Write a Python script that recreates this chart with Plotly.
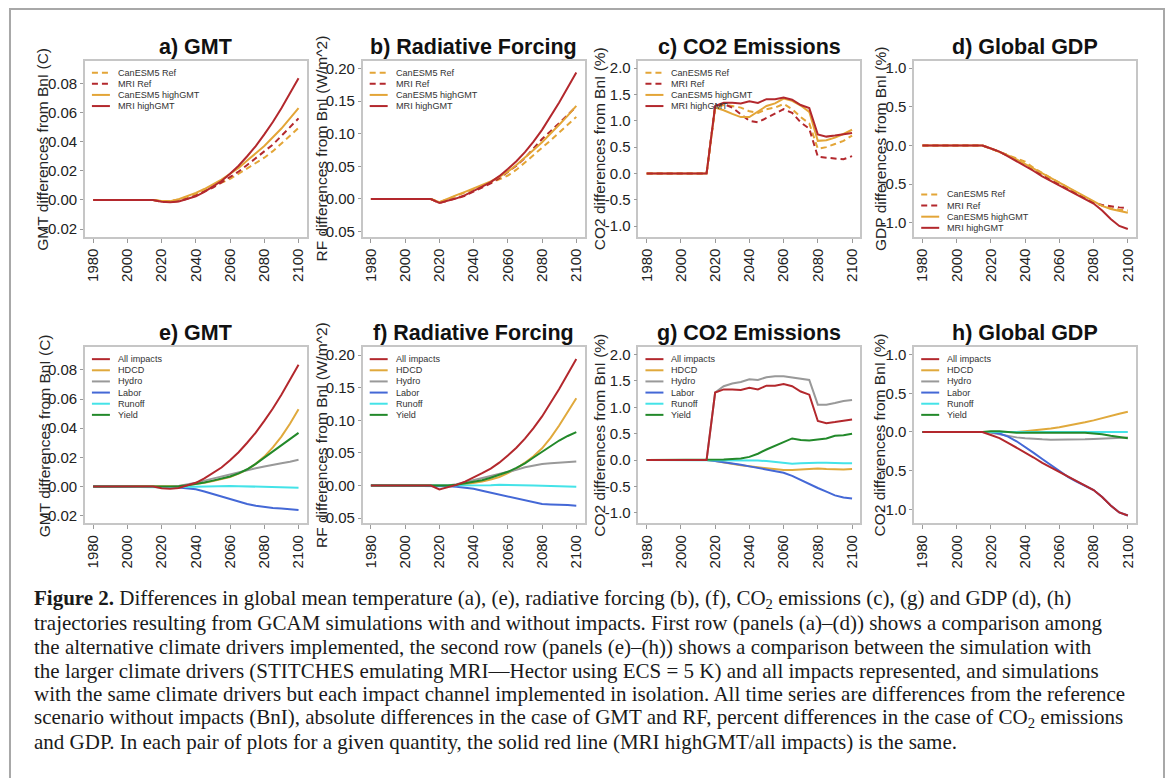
import plotly.graph_objects as go

W, H = 1171, 778

# ---------------- data ----------------
years = [1980, 1985, 1990, 1995, 2000, 2005, 2010, 2015, 2020, 2025, 2030, 2035, 2040,
         2045, 2050, 2055, 2060, 2065, 2070, 2075, 2080, 2085, 2090, 2095, 2100]
x_tick_vals = [1980, 2000, 2020, 2040, 2060, 2080, 2100]
x_tick_text = ["1980", "2000", "2020", "2040", "2060", "2080", "2100"]

# GMT (C)
gmt_can_ref = [0, 0, 0, 0, 0, 0, 0, 0, -0.0008, -0.0008, 0.0003, 0.0020, 0.0040, 0.0065, 0.0090, 0.0115,
               0.0145, 0.0180, 0.0215, 0.0250, 0.0290, 0.0335, 0.0385, 0.0440, 0.0495]
gmt_mri_ref = [0, 0, 0, 0, 0, 0, 0, 0, -0.0012, -0.0015, -0.0008, 0.0008, 0.0030, 0.0055, 0.0085, 0.0120,
               0.0155, 0.0195, 0.0240, 0.0285, 0.0330, 0.0380, 0.0440, 0.0500, 0.0560]
gmt_can_high = [0, 0, 0, 0, 0, 0, 0, 0, -0.0008, -0.0008, 0.0005, 0.0025, 0.0048, 0.0075, 0.0105, 0.0140,
                0.0180, 0.0220, 0.0270, 0.0320, 0.0370, 0.0430, 0.0490, 0.0560, 0.0630]
gmt_mri_high = [0, 0, 0, 0, 0, 0, 0, 0, -0.0012, -0.0016, -0.0010, 0.0005, 0.0025, 0.0055, 0.0090, 0.0130,
                0.0180, 0.0235, 0.0300, 0.0370, 0.0450, 0.0535, 0.0630, 0.0730, 0.0835]
gmt_hdcd = [0, 0, 0, 0, 0, 0, 0, 0, 0.0, 0.0, 0.0003, 0.0008, 0.0015, 0.0025, 0.0038, 0.0050,
            0.0065, 0.0088, 0.0115, 0.0155, 0.0205, 0.0268, 0.0342, 0.0430, 0.0530]
gmt_hydro = [0, 0, 0, 0, 0, 0, 0, 0, -0.0003, -0.0003, 0.0003, 0.0012, 0.0025, 0.0040, 0.0055, 0.0070,
             0.0085, 0.0100, 0.0113, 0.0125, 0.0137, 0.0150, 0.0160, 0.0170, 0.0183]
gmt_labor = [0, 0, 0, 0, 0, 0, 0, 0, -0.0002, -0.0004, -0.0007, -0.0012, -0.0020, -0.0035, -0.0052, -0.0070,
             -0.0088, -0.0105, -0.0120, -0.0132, -0.0142, -0.0148, -0.0152, -0.0157, -0.0162]
gmt_runoff = [0, 0, 0, 0, 0, 0, 0, 0, -0.0005, -0.0006, -0.0004, -0.0002, -0.0001, 0.0, 0.0001, 0.0002,
              0.0003, 0.0002, 0.0, -0.0002, -0.0003, -0.0005, -0.0006, -0.0008, -0.0009]
gmt_yield = [0, 0, 0, 0, 0, 0, 0, 0, 0.0, 0.0, 0.0002, 0.0008, 0.0016, 0.0027, 0.0040, 0.0053,
             0.0068, 0.0090, 0.0118, 0.0155, 0.0197, 0.0240, 0.0282, 0.0325, 0.0368]

# Radiative forcing (W/m^2)
rf_can_ref = [0, 0, 0, 0, 0, 0, 0, 0, -0.005, 0.000, 0.004, 0.009, 0.014, 0.019, 0.024, 0.030,
              0.036, 0.045, 0.056, 0.067, 0.079, 0.090, 0.102, 0.114, 0.126]
rf_mri_ref = [0, 0, 0, 0, 0, 0, 0, 0, -0.006, -0.003, 0.001, 0.005, 0.011, 0.017, 0.024, 0.032,
              0.041, 0.051, 0.063, 0.077, 0.092, 0.104, 0.116, 0.129, 0.142]
rf_can_high = [0, 0, 0, 0, 0, 0, 0, 0, -0.005, 0.001, 0.006, 0.011, 0.016, 0.021, 0.027, 0.034,
               0.042, 0.052, 0.063, 0.075, 0.087, 0.100, 0.114, 0.128, 0.143]
rf_mri_high = [0, 0, 0, 0, 0, 0, 0, 0, -0.006, -0.003, 0.001, 0.006, 0.012, 0.019, 0.026, 0.035,
               0.046, 0.058, 0.072, 0.088, 0.106, 0.126, 0.148, 0.171, 0.194]
rf_hdcd = [0, 0, 0, 0, 0, 0, 0, 0, -0.001, -0.001, 0.000, 0.002, 0.0036, 0.006, 0.009, 0.013,
           0.019, 0.026, 0.035, 0.045, 0.057, 0.073, 0.092, 0.112, 0.134]
rf_hydro = [0, 0, 0, 0, 0, 0, 0, 0, -0.001, 0.000, 0.002, 0.005, 0.0087, 0.012, 0.015, 0.018,
            0.021, 0.024, 0.028, 0.031, 0.033, 0.034, 0.035, 0.036, 0.037]
rf_labor = [0, 0, 0, 0, 0, 0, 0, 0, 0.000, -0.001, -0.002, -0.003, -0.005, -0.008, -0.011, -0.014,
            -0.017, -0.020, -0.023, -0.026, -0.0285, -0.029, -0.029, -0.030, -0.031]
rf_runoff = [0, 0, 0, 0, 0, 0, 0, 0, -0.0005, -0.0005, 0.0, 0.0, 0.0, 0.0, 0.0005, 0.001,
             0.001, 0.001, 0.0005, 0.0, -0.0005, -0.001, -0.001, -0.0015, -0.002]
rf_yield = [0, 0, 0, 0, 0, 0, 0, 0, -0.001, 0.000, 0.001, 0.003, 0.005, 0.008, 0.012, 0.016,
            0.021, 0.027, 0.034, 0.043, 0.052, 0.061, 0.069, 0.076, 0.082]

# CO2 emissions (%)
co2_can_ref = [0, 0, 0, 0, 0, 0, 0, 0, 1.25, 1.30, 1.28, 1.25, 1.18, 1.15, 1.22, 1.25,
               1.32, 1.22, 1.07, 0.95, 0.47, 0.50, 0.56, 0.62, 0.72]
co2_mri_ref = [0, 0, 0, 0, 0, 0, 0, 0, 1.28, 1.32, 1.25, 1.12, 1.00, 0.97, 1.05, 1.13,
               1.22, 1.15, 0.97, 0.85, 0.32, 0.30, 0.28, 0.27, 0.33]
co2_can_high = [0, 0, 0, 0, 0, 0, 0, 0, 1.25, 1.20, 1.13, 1.07, 1.07, 1.17, 1.28, 1.33,
                1.42, 1.38, 1.29, 1.17, 0.62, 0.63, 0.68, 0.75, 0.83]
co2_mri_high = [0, 0, 0, 0, 0, 0, 0, 0, 1.28, 1.34, 1.34, 1.33, 1.37, 1.34, 1.41, 1.41,
                1.44, 1.40, 1.30, 1.24, 0.74, 0.70, 0.72, 0.75, 0.77]
co2_hdcd = [0, 0, 0, 0, 0, 0, 0, 0, -0.02, -0.05, -0.08, -0.10, -0.12, -0.14, -0.16, -0.18,
            -0.19, -0.19, -0.18, -0.16, -0.16, -0.17, -0.18, -0.18, -0.17]
co2_hydro = [0, 0, 0, 0, 0, 0, 0, 0, 1.28, 1.40, 1.45, 1.48, 1.53, 1.52, 1.57, 1.59,
             1.59, 1.57, 1.54, 1.52, 1.05, 1.05, 1.08, 1.12, 1.14]
co2_labor = [0, 0, 0, 0, 0, 0, 0, 0, -0.02, -0.04, -0.06, -0.09, -0.12, -0.15, -0.17, -0.20,
             -0.24, -0.30, -0.38, -0.45, -0.53, -0.60, -0.67, -0.71, -0.73]
co2_runoff = [0, 0, 0, 0, 0, 0, 0, 0, 0.0, 0.0, 0.0, 0.0, -0.01, -0.01, -0.02, -0.04,
              -0.06, -0.07, -0.06, -0.05, -0.05, -0.05, -0.06, -0.06, -0.06]
co2_yield = [0, 0, 0, 0, 0, 0, 0, 0, 0.0, 0.01, 0.02, 0.03, 0.06, 0.12, 0.20, 0.27,
             0.35, 0.41, 0.38, 0.37, 0.39, 0.41, 0.46, 0.47, 0.50]

# Global GDP (%)
gdp_can_ref = [0, 0, 0, 0, 0, 0, 0, 0, -0.04, -0.08, -0.13, -0.17, -0.21, -0.29, -0.36, -0.42,
               -0.48, -0.55, -0.61, -0.67, -0.73, -0.78, -0.81, -0.83, -0.84]
gdp_mri_ref = [0, 0, 0, 0, 0, 0, 0, 0, -0.04, -0.08, -0.13, -0.19, -0.25, -0.31, -0.38, -0.45,
               -0.51, -0.57, -0.63, -0.69, -0.74, -0.77, -0.79, -0.80, -0.81]
gdp_can_high = [0, 0, 0, 0, 0, 0, 0, 0, -0.04, -0.08, -0.13, -0.18, -0.24, -0.30, -0.36, -0.42,
                -0.48, -0.55, -0.61, -0.67, -0.73, -0.78, -0.82, -0.85, -0.87]
gdp_mri_high = [0, 0, 0, 0, 0, 0, 0, 0, -0.04, -0.08, -0.14, -0.20, -0.26, -0.33, -0.40, -0.46,
                -0.52, -0.58, -0.64, -0.69, -0.75, -0.84, -0.95, -1.04, -1.08]
gdp_hdcd = [0, 0, 0, 0, 0, 0, 0, 0, 0.0, 0.0, 0.0, 0.0, 0.01, 0.02, 0.03, 0.045,
            0.06, 0.08, 0.10, 0.125, 0.15, 0.18, 0.21, 0.235, 0.26]
gdp_hydro = [0, 0, 0, 0, 0, 0, 0, 0, -0.01, -0.03, -0.05, -0.07, -0.08, -0.09, -0.095, -0.10,
             -0.10, -0.10, -0.10, -0.095, -0.09, -0.085, -0.08, -0.075, -0.07]
gdp_labor = [0, 0, 0, 0, 0, 0, 0, 0, 0.0, -0.02, -0.06, -0.12, -0.19, -0.27, -0.35, -0.43,
             -0.50, -0.58, -0.64, -0.69, -0.75, -0.84, -0.95, -1.04, -1.08]
gdp_runoff = [0, 0, 0, 0, 0, 0, 0, 0, 0.005, 0.005, 0.0, 0.0, 0.0, 0.0, 0.0, 0.0,
              0.0, 0.0, 0.0, 0.0, 0.0, 0.0, 0.0, 0.0, 0.0]
gdp_yield = [0, 0, 0, 0, 0, 0, 0, 0, 0.01, 0.01, 0.0, -0.01, -0.01, -0.01, -0.01, -0.01,
             -0.01, -0.01, -0.01, -0.01, -0.02, -0.03, -0.05, -0.07, -0.08]

# y-axis ticks
gmt_ticks = [-0.02, 0.0, 0.02, 0.04, 0.06, 0.08]
gmt_tick_text = ["-0.02", "0.00", "0.02", "0.04", "0.06", "0.08"]
rf_ticks = [-0.05, 0.0, 0.05, 0.10, 0.15, 0.20]
rf_tick_text = ["-0.05", "0.00", "0.05", "0.10", "0.15", "0.20"]
co2_ticks = [-1.0, -0.5, 0.0, 0.5, 1.0, 1.5, 2.0]
co2_tick_text = ["-1.0", "-0.5", "0.0", "0.5", "1.0", "1.5", "2.0"]
gdp_ticks = [-1.0, -0.5, 0.0, 0.5, 1.0]
gdp_tick_text = ["-1.0", "-0.5", "0.0", "0.5", "1.0"]

# ---------------- styles ----------------
C_CAN = "#E3A537"
C_MRI = "#B3282D"
C_HDCD = "#E0A93C"
C_HYDRO = "#999999"
C_LABOR = "#4468D6"
C_RUNOFF = "#44E3E8"
C_YIELD = "#22892A"
DASH = "6px,4px"

def top_series(can_ref, mri_ref, can_high, mri_high):
    return [("CanESM5 Ref", can_ref, C_CAN, DASH),
            ("MRI Ref", mri_ref, C_MRI, DASH),
            ("CanESM5 highGMT", can_high, C_CAN, "solid"),
            ("MRI highGMT", mri_high, C_MRI, "solid")]

def bottom_series(allimp, hdcd, hydro, labor, runoff, yld):
    return [("All impacts", allimp, C_MRI, "solid"),
            ("HDCD", hdcd, C_HDCD, "solid"),
            ("Hydro", hydro, C_HYDRO, "solid"),
            ("Labor", labor, C_LABOR, "solid"),
            ("Runoff", runoff, C_RUNOFF, "solid"),
            ("Yield", yld, C_YIELD, "solid")]

panels = [
    dict(title="a) GMT", ylab="GMT differences from BnI (C)", yr=[-0.0253, 0.0956],
         tv=gmt_ticks, tt=gmt_tick_text, leg="top", ylx=42,
         series=top_series(gmt_can_ref, gmt_mri_ref, gmt_can_high, gmt_mri_high)),
    dict(title="b) Radiative Forcing", ylab="RF differences from BnI (W/m^2)", yr=[-0.058, 0.2122],
         tv=rf_ticks, tt=rf_tick_text, leg="top", ylx=321,
         series=top_series(rf_can_ref, rf_mri_ref, rf_can_high, rf_mri_high)),
    dict(title="c) CO2 Emissions", ylab="CO2 differences from BnI (%)", yr=[-1.2, 2.14],
         tv=co2_ticks, tt=co2_tick_text, leg="top", ylx=599,
         series=top_series(co2_can_ref, co2_mri_ref, co2_can_high, co2_mri_high)),
    dict(title="d) Global GDP", ylab="GDP differences from BnI (%)", yr=[-1.18, 1.095],
         tv=gdp_ticks, tt=gdp_tick_text, leg="bottom", ylx=880,
         series=top_series(gdp_can_ref, gdp_mri_ref, gdp_can_high, gdp_mri_high)),
    dict(title="e) GMT", ylab="GMT differences from BnI (C)", yr=[-0.0253, 0.0956],
         tv=gmt_ticks, tt=gmt_tick_text, leg="top", ylx=43,
         series=bottom_series(gmt_mri_high, gmt_hdcd, gmt_hydro, gmt_labor, gmt_runoff, gmt_yield)),
    dict(title="f) Radiative Forcing", ylab="RF differences from BnI (W/m^2)", yr=[-0.058, 0.2122],
         tv=rf_ticks, tt=rf_tick_text, leg="top", ylx=321,
         series=bottom_series(rf_mri_high, rf_hdcd, rf_hydro, rf_labor, rf_runoff, rf_yield)),
    dict(title="g) CO2 Emissions", ylab="CO2 differences from BnI (%)", yr=[-1.2, 2.14],
         tv=co2_ticks, tt=co2_tick_text, leg="top", ylx=599,
         series=bottom_series(co2_mri_high, co2_hdcd, co2_hydro, co2_labor, co2_runoff, co2_yield)),
    dict(title="h) Global GDP", ylab="CO2 differences from BnI (%)", yr=[-1.18, 1.095],
         tv=gdp_ticks, tt=gdp_tick_text, leg="top", ylx=879,
         series=bottom_series(gdp_mri_high, gdp_hdcd, gdp_hydro, gdp_labor, gdp_runoff, gdp_yield)),
]

caption_lines = [
    "<b>Figure 2.</b> Differences in global mean temperature (a), (e), radiative forcing (b), (f), CO<sub>2</sub> emissions (c), (g) and GDP (d), (h)",
    "trajectories resulting from GCAM simulations with and without impacts. First row (panels (a)–(d)) shows a comparison among",
    "the alternative climate drivers implemented, the second row (panels (e)–(h)) shows a comparison between the simulation with",
    "the larger climate drivers (STITCHES emulating MRI—Hector using ECS = 5 K) and all impacts represented, and simulations",
    "with the same climate drivers but each impact channel implemented in isolation. All time series are differences from the reference",
    "scenario without impacts (BnI), absolute differences in the case of GMT and RF, percent differences in the case of CO<sub>2</sub> emissions",
    "and GDP. In each pair of plots for a given quantity, the solid red line (MRI highGMT/all impacts) is the same.",
]

# ---------------- layout geometry (pixels) ----------------
cols = [(84, 306), (362, 584), (638, 860), (914, 1136)]
rows = [(60, 237), (348, 525)]
SANS = "Liberation Sans, Arial, sans-serif"
SERIF = "Liberation Serif, Times New Roman, serif"

def px(x):
    return x / W

def py(y):
    return 1 - y / H

fig = go.Figure()
shapes = []
annotations = []
layout_axes = {}

for k, p in enumerate(panels):
    i = k + 1
    r, c = divmod(k, 4)
    x0, x1 = cols[c]
    y0, y1 = rows[r]
    xa = "x" if i == 1 else f"x{i}"
    ya = "y" if i == 1 else f"y{i}"
    xkey = "xaxis" if i == 1 else f"xaxis{i}"
    ykey = "yaxis" if i == 1 else f"yaxis{i}"

    # traces: legend order for top row; red 'All impacts' drawn last for bottom row
    order = p["series"] if r == 0 else p["series"][1:] + p["series"][:1]
    for name, vals, color, dash in order:
        fig.add_trace(go.Scatter(x=years, y=vals, mode="lines", name=name,
                                 line=dict(color=color, width=2, dash=dash),
                                 xaxis=xa, yaxis=ya, showlegend=False, hoverinfo="skip"))

    axis_common = dict(showline=True, linecolor="#c6c6c6", linewidth=1.5, mirror=True,
                       ticks="outside", tickwidth=1, tickcolor="#9a9a9a",
                       showgrid=False, zeroline=False,
                       tickfont=dict(family=SANS, size=15, color="#222222"))
    layout_axes[xkey] = dict(domain=[px(x0), px(x1)], range=[1975.2, 2104.8],
                             tickvals=x_tick_vals, ticktext=x_tick_text, tickangle=-90,
                             ticklen=4, anchor=ya, **axis_common)
    layout_axes[ykey] = dict(domain=[py(y1), py(y0)], range=p["yr"],
                             tickvals=p["tv"], ticktext=p["tt"], ticklen=3,
                             anchor=xa, **axis_common)

    # panel title
    annotations.append(dict(text=f"<b>{p['title']}</b>", x=px((x0 + x1) / 2), y=py(y0 - 14),
                            xref="paper", yref="paper", xanchor="center", yanchor="middle",
                            showarrow=False, font=dict(family=SANS, size=21.5, color="#111111")))
    # y-axis title
    annotations.append(dict(text=p["ylab"], x=px(p["ylx"]), y=py((y0 + y1) / 2), textangle=-90,
                            xref="paper", yref="paper", xanchor="center", yanchor="middle",
                            showarrow=False, font=dict(family=SANS, size=15.5, color="#262626")))
    # legend (inside the plot box)
    n = len(p["series"])
    step = 11.2
    first = y0 + 12 if p["leg"] == "top" else y1 - 9 - (n - 1) * step
    for j, (name, vals, color, dash) in enumerate(p["series"]):
        yy = first + j * step
        shapes.append(dict(type="line", xref="paper", yref="paper",
                           x0=px(x0 + 7), x1=px(x0 + 25), y0=py(yy), y1=py(yy),
                           line=dict(color=color, width=2, dash=dash)))
        annotations.append(dict(text=name, x=px(x0 + 31), y=py(yy), xref="paper", yref="paper",
                                xanchor="left", yanchor="middle", showarrow=False,
                                font=dict(family=SANS, size=9.1, color="#333333")))

# caption
for j, line in enumerate(caption_lines):
    annotations.append(dict(text=line, x=px(31), y=py(601 + 24 * j), xref="paper", yref="paper",
                            xanchor="left", yanchor="middle", showarrow=False,
                            font=dict(family=SERIF, size=21.0, color="#1a1a1a")))

# outer frame
shapes.append(dict(type="rect", xref="paper", yref="paper", x0=px(9), x1=px(1164),
                   y0=py(800), y1=py(8), line=dict(color="#a8a8a8", width=2),
                   fillcolor="rgba(0,0,0,0)", layer="below"))

fig.update_layout(width=W, height=H, margin=dict(l=0, r=0, t=0, b=0),
                  paper_bgcolor="white", plot_bgcolor="white", showlegend=False,
                  shapes=shapes, annotations=annotations, **layout_axes)

fig.write_html("out.html")
